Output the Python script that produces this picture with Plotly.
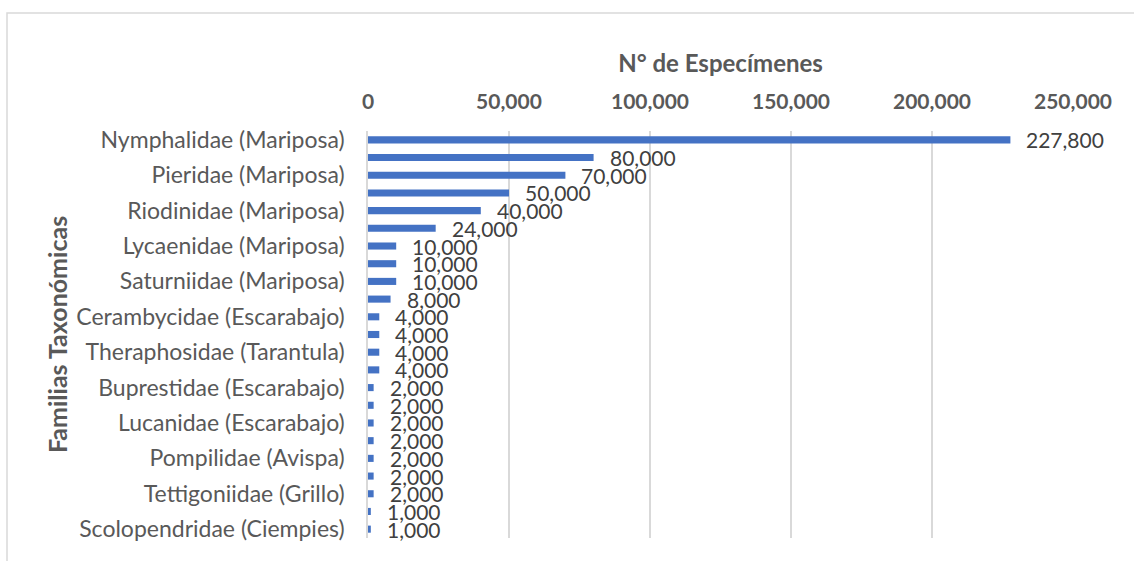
import plotly.graph_objects as go

categories = [
    "Nymphalidae (Mariposa)", "Papilionidae (Mariposa)", "Pieridae (Mariposa)",
    "Hesperiidae (Mariposa)", "Riodinidae (Mariposa)", "Sphingidae (Polilla)",
    "Lycaenidae (Mariposa)", "Erebidae (Polilla)", "Saturniidae (Mariposa)",
    "Scarabaeidae (Escarabajo)", "Cerambycidae (Escarabajo)", "Mantidae (Mantis)",
    "Theraphosidae (Tarantula)", "Phasmatidae (Insecto palo)", "Buprestidae (Escarabajo)",
    "Curculionidae (Gorgojo)", "Lucanidae (Escarabajo)", "Vespidae (Avispa)",
    "Pompilidae (Avispa)", "Cicadidae (Chicharra)", "Tettigoniidae (Grillo)",
    "Scorpionidae (Escorpión)", "Scolopendridae (Ciempies)",
]
specimens = [227800, 80000, 70000, 50000, 40000, 24000, 10000, 10000, 10000, 8000,
             4000, 4000, 4000, 4000, 2000, 2000, 2000, 2000, 2000, 2000, 2000, 1000, 1000]
x_ticks = [0, 50000, 100000, 150000, 200000, 250000]
x_title = "N° de Especímenes"
y_title = "Familias Taxonómicas"

GRAY = "#595959"
FONT = "Lato"

fig = go.Figure()
fig.add_trace(go.Bar(
    x=specimens, y=categories, orientation="h",
    marker=dict(color="#4472C4", line=dict(width=0)),
    hoverinfo="x+y",
))
for c, v in zip(categories, specimens):
    fig.add_annotation(x=v, y=c, xref="x", yref="y", text=f"{v:,}",
                       showarrow=False, xanchor="left", yanchor="middle",
                       xshift=14, yshift=0,
                       font=dict(family=FONT, size=21, color="#404040"))

W, H = 1134, 561
L, R, T, B = 368, 61, 131, 23
pw, ph = W - L - R, H - T - B
fig.add_shape(type="rect", xref="paper", yref="paper",
              x0=(7 - L) / pw, x1=(W + 5 - L) / pw,
              y0=-(H + 5 - (H - B)) / ph, y1=1 + (T - 13) / ph,
              line=dict(color="#D9D9D9", width=1.5), fillcolor="rgba(0,0,0,0)",
              layer="below")

fig.update_layout(
    width=W, height=H,
    margin=dict(l=L, r=R, t=T, b=B, autoexpand=False),
    paper_bgcolor="white", plot_bgcolor="white",
    bargap=0.6, showlegend=False,
    font=dict(family=FONT, color=GRAY),
    xaxis=dict(
        side="top", range=[0, 250000], tickvals=x_ticks,
        ticktext=[f"{t:,}" for t in x_ticks], automargin=False,
        tickfont=dict(family=FONT, size=21, color=GRAY, weight="bold"),
        showgrid=True, gridcolor="#D9D9D9", gridwidth=1.5,
        zeroline=False, showline=False, ticks="", ticklabelstandoff=17,
        title=dict(text=x_title, font=dict(family=FONT, size=24, color=GRAY, weight="bold"),
                   standoff=8),
    ),
    yaxis=dict(
        range=[len(categories) - 0.5, -0.5], tickvals=categories[::2], automargin=False,
        tickfont=dict(family=FONT, size=23, color=GRAY),
        showline=True, linecolor="#D9D9D9", linewidth=1.5,
        showgrid=False, ticks="", ticklabelstandoff=17,
        title=dict(text=y_title, font=dict(family=FONT, size=25, color=GRAY, weight="bold"),
                   standoff=2),
    ),
)

fig.write_html("out.html", config={"displayModeBar": False},
               post_script="document.body.style.margin='0';document.body.style.overflow='hidden';")
